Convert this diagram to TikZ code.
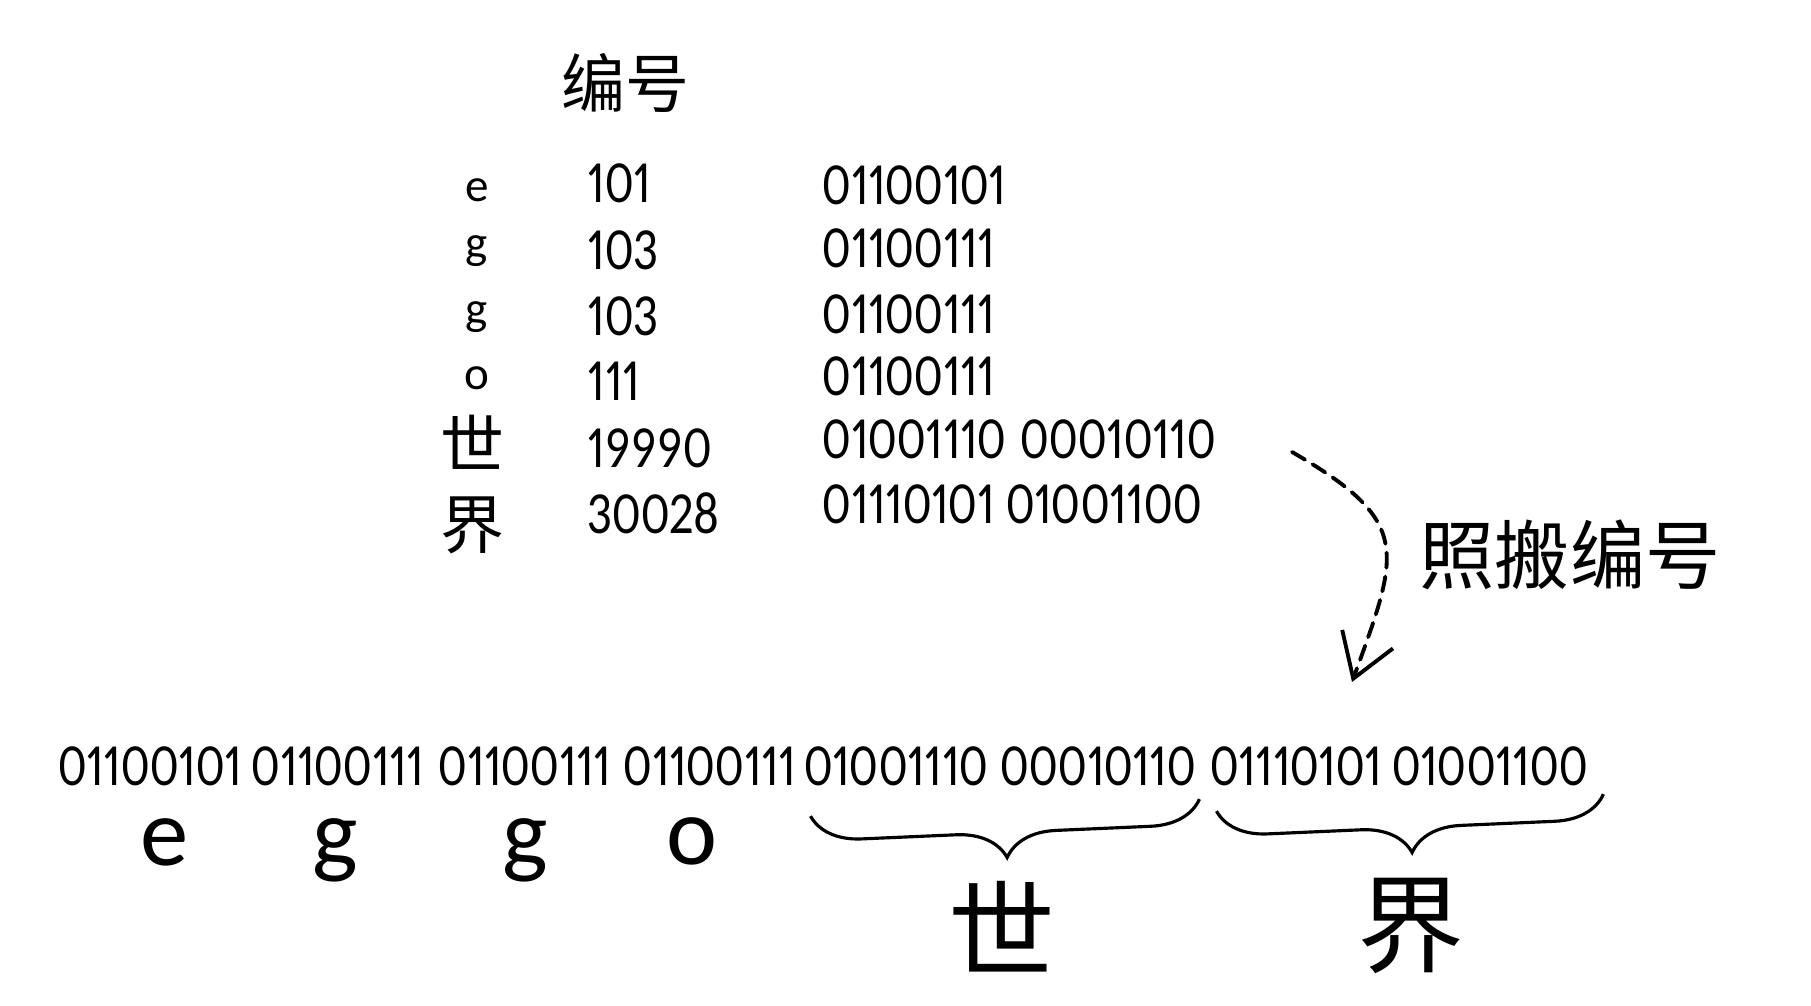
\documentclass[tikz,border=0pt]{standalone}
\usepackage{fontspec}
\setmainfont{Carlito}
\newfontfamily\bitfont[FakeStretch=0.83, Numbers=Proportional]{Carlito}
\newfontfamily\cjk{Noto Sans CJK SC}
\usetikzlibrary{positioning, arrows.meta, decorations.pathreplacing}

\begin{document}
\begin{tikzpicture}[
  bits/.style={font=\bitfont\fontsize{17}{20}\selectfont, inner sep=0pt},
  lchar/.style={font=\fontsize{13.4}{16}\selectfont, inner sep=0pt, anchor=base},
  hchar/.style={font=\cjk\fontsize{18.2}{20}\selectfont, inner sep=0pt},
  bchar/.style={font=\fontsize{27.5}{30}\selectfont, inner sep=0pt, anchor=base},
  bhan/.style={font=\cjk\fontsize{30.4}{33}\selectfont, inner sep=0pt},
  ubrace/.style={decorate, decoration={brace, mirror, amplitude=0.5cm}, line width=0.9pt},
  copyarr/.style={-{Straight Barb[length=4.2mm, width=5.4mm]}, line width=1.1pt,
                  dash pattern=on 1.5mm off 0.9mm, line cap=round},
]
  \useasboundingbox (0,0) rectangle (18.11,-10.05);

  \node[hchar] (title) at (6.25,-0.83) {编号};

  % Code table
  \node[lchar] (ch1) at (4.77,-2.02) {e};
  \node[lchar] (ch2) at (4.77,-2.59) {g};
  \node[lchar] (ch3) at (4.77,-3.24) {g};
  \node[lchar] (ch4) at (4.77,-3.90) {o};
  \node[hchar] (ch5) at (4.72,-4.42) {世};
  \node[hchar] (ch6) at (4.72,-5.25) {界};

  \node[bits, anchor=base west] (num1) at (5.87,-2.03) {101};
  \node[bits, anchor=base west] (num2) at (5.87,-2.70) {103};
  \node[bits, anchor=base west] (num3) at (5.87,-3.35) {103};
  \node[bits, anchor=base west] (num4) at (5.87,-4.00) {111};
  \node[bits, anchor=base west] (num5) at (5.87,-4.67) {19990};
  \node[bits, anchor=base west] (num6) at (5.87,-5.33) {30028};

  \node[bits, anchor=base west] (bin1) at (8.22,-2.05) {01100101};
  \node[bits, anchor=base west] (bin2) at (8.22,-2.68) {01100111};
  \node[bits, anchor=base west] (bin3) at (8.22,-3.33) {01100111};
  \node[bits, anchor=base west] (bin4) at (8.22,-3.95) {01100111};
  \node[bits, anchor=base west] (bin5) at (8.22,-4.58) {01001110\hspace{0.14cm}00010110};
  \node[bits, anchor=base west] (bin6) at (8.22,-5.23) {01110101\hspace{0.12cm}01001100};

  % Copy arrow
  \coordinate (cpS) at (12.92,-4.52);
  \coordinate (cpE) at (13.52,-6.82);
  \draw[copyarr] (cpS) to[out=-30, in=70, looseness=1.5] (cpE);
  \node[font=\cjk\fontsize{21.4}{24}\selectfont, inner sep=0pt] (copylbl) at (15.70,-5.55) {照搬编号};

  % Byte stream
  \node[bits, anchor=base] (g1) at (1.50,-7.85) {01100101};
  \node[bits, anchor=base] (g2) at (3.38,-7.85) {01100111};
  \node[bits, anchor=base] (g3) at (5.25,-7.85) {01100111};
  \node[bits, anchor=base] (g4) at (7.10,-7.85) {01100111};
  \node[bits, anchor=base] (g5) at (8.96,-7.85) {01001110};
  \node[bits, anchor=base] (g6) at (10.98,-7.85) {00010110};
  \node[bits, anchor=base] (g7) at (12.96,-7.85) {01110101};
  \node[bits, anchor=base] (g8) at (14.90,-7.85) {01001100};

  \node[bchar] (e1) at (1.65,-8.65) {e};
  \node[bchar] (e2) at (3.35,-8.65) {g};
  \node[bchar] (e3) at (5.25,-8.65) {g};
  \node[bchar] (e4) at (6.92,-8.64) {o};

  \draw[ubrace] ([xshift=0.07cm, yshift=-0.30cm]g5.south west) -- ([xshift=0.03cm, yshift=-0.13cm]g6.south east);
  \draw[ubrace] ([xshift=0.07cm, yshift=-0.25cm]g7.south west) -- ([xshift=0.15cm, yshift=-0.08cm]g8.south east);

  \node[bhan] (han1) at (10.02,-9.27) {世};
  \node[bhan] (han2) at (14.11,-9.26) {界};
\end{tikzpicture}
\end{document}
